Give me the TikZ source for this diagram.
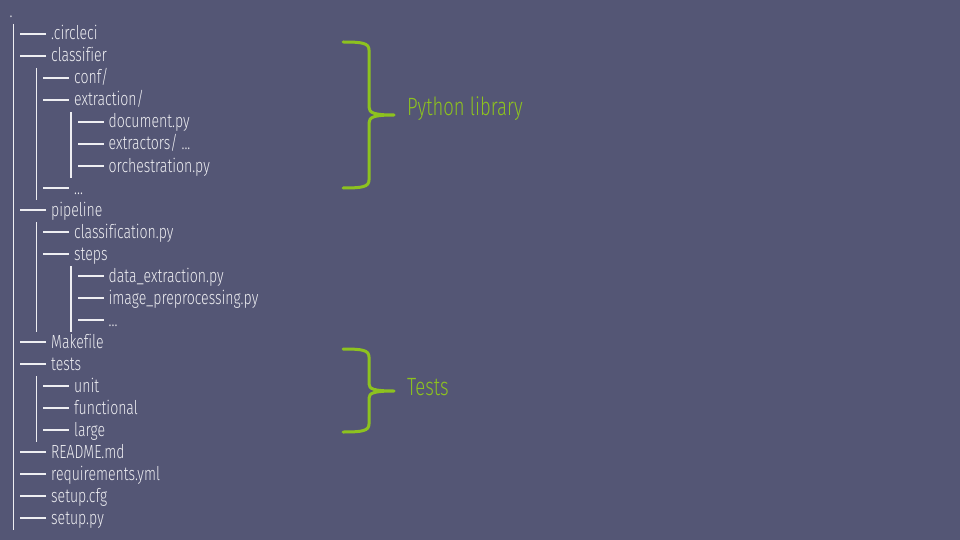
\documentclass[tikz,border=0pt]{standalone}
\usepackage{fontspec}
\setmainfont{Fira Sans}[UprightFont={* Light},FakeStretch=0.74,Ligatures={NoCommon}]
\usetikzlibrary{calc}
\definecolor{bg}{RGB}{84,86,117}
\definecolor{txt}{RGB}{238,238,242}
\definecolor{lime}{RGB}{141,194,31}
\begin{document}
\begin{tikzpicture}[x=1pt,y=-1pt,
  t/.style={anchor=base west, inner sep=0pt, text=txt, font=\fontsize{19}{21}\selectfont},
  lbl/.style={anchor=west, inner sep=0pt, text=lime, font=\fontsize{25}{28}\selectfont},
  tl/.style={line width=1.3pt, draw=txt},
  brace/.style={line width=3pt, draw=lime, line cap=round, line join=round}]
\fill[bg] (0,0) rectangle (960,540);
\useasboundingbox (0,0) rectangle (960,540);
\newcommand\dsh[1]{\draw[tl] ($(#1.base west)+(-5,-6)$) -- ($(#1.base west)+(-31,-6)$);}
\newcommand\vbar[2]{\draw[tl] let \p1=($(#1.base west)+(-37.5,-16)$), \p2=($(#2.base west)+(0,6)$) in (\x1,\y1) -- (\x1,\y2);}
\node[t] (root) at (9.5,18) {.};
% level 1
\node[t] (circleci) at (51,40) {.circleci};
\node[t] (classifier) at (51,62) {classifier};
\node[t] (conf) at (74,84) {conf/};
\node[t] (extraction) at (74,106) {extraction/};
\node[t] (document) at (108.5,128) {document.py};
\node[t] (extractors) at (108.5,150) {extractors/ ...};
\node[t] (orch) at (108.5,172) {orchestration.py};
\node[t] (cdots) at (74,194) {...};
\node[t] (pipeline) at (51,216) {pipeline};
\node[t] (classification) at (74,238) {classification.py};
\node[t] (steps) at (74,260) {steps};
\node[t] (dataex) at (108.5,282) {data\_extraction.py};
\node[t] (imgpre) at (108.5,304) {image\_preprocessing.py};
\node[t] (sdots) at (108.5,326) {...};
\node[t] (makefile) at (51,348) {Makefile};
\node[t] (tests) at (51,370) {tests};
\node[t] (unit) at (74,392) {unit};
\node[t] (functional) at (74,414) {functional};
\node[t] (large) at (74,436) {large};
\node[t] (readme) at (51,458) {README.md};
\node[t] (req) at (51,480) {requirements.yml};
\node[t] (setupcfg) at (51,502) {setup.cfg};
\node[t] (setuppy) at (51,524) {setup.py};
\foreach \n in {circleci,classifier,conf,extraction,document,extractors,orch,cdots,pipeline,classification,steps,dataex,imgpre,sdots,makefile,tests,unit,functional,large,readme,req,setupcfg,setuppy}{\dsh{\n}}
\vbar{circleci}{setuppy}
\vbar{conf}{cdots}
\vbar{document}{orch}
\vbar{classification}{sdots}
\vbar{dataex}{sdots}
\vbar{unit}{large}
% braces
\draw[brace] (343,42) .. controls (362,42) and (369,43) .. (369,50) -- (369,107)
  .. controls (369,113) and (374,115) .. (394,115)
  .. controls (374,115) and (369,117) .. (369,123) -- (369,180)
  .. controls (369,187) and (362,188) .. (343,188);
\draw[brace] (343,349) .. controls (362,349) and (369,350) .. (369,357) -- (369,384)
  .. controls (369,389) and (374,391) .. (394,391)
  .. controls (374,391) and (369,393) .. (369,398) -- (369,424)
  .. controls (369,431) and (362,432) .. (343,432);
\node[lbl] (pylib) at (407,109) {Python library};
\node[lbl] (testlbl) at (407,387) {Tests};
\end{tikzpicture}
\end{document}
